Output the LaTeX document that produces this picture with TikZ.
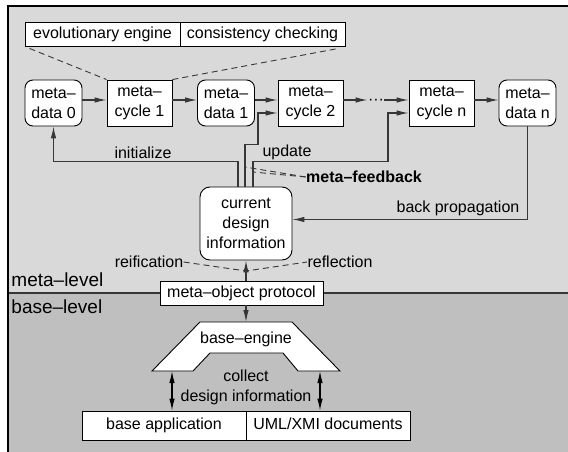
\documentclass[tikz,border=0pt]{standalone}
\usepackage{fontspec}
\setmainfont{Liberation Sans}
\usetikzlibrary{arrows.meta}
\definecolor{metagray}{RGB}{217,217,217}
\definecolor{basegray}{RGB}{191,191,191}
\definecolor{linegray}{RGB}{55,55,55}

\tikzset{
  metadata/.style={draw, fill=white, rounded corners=8pt, minimum width=57pt, minimum height=46pt, inner sep=0pt, align=center},
  metacycle/.style={draw, fill=white, minimum width=65pt, minimum height=46pt, inner sep=0pt, align=center},
  bar/.style={draw, fill=white, minimum height=24pt, inner sep=0pt, text height=12pt, text depth=3.5pt},
  lbl/.style={inner sep=0pt},
  dash6/.style={dashed, dash pattern=on 6pt off 4pt, draw=linegray},
  arr/.style={draw=linegray, line width=1.1pt, -{Latex[length=12pt,width=5.5pt]}},
  darr/.style={draw=black, line width=1.1pt, {Latex[length=12pt,width=5.5pt]}-{Latex[length=12pt,width=5.5pt]}}
}

\begin{document}
\begin{tikzpicture}[x=1pt, y=-1pt, font=\fontsize{16}{20}\selectfont, line width=0.9pt]
\useasboundingbox (0,0) rectangle (568,452);
  \fill[metagray] (8,6) rectangle (568,293);
  \fill[basegray] (8,293) rectangle (568,452);
  \draw[linegray, line width=1.2pt] (8,293) -- (568,293);
  \draw[line width=2pt] (8,452) -- (8,6) -- (568,6);

  \node[lbl, anchor=west, font=\fontsize{19}{22}\selectfont] (ml) at (11,280) {meta--level};
  \node[lbl, anchor=west, font=\fontsize{19}{22}\selectfont] (bl) at (11,307) {base--level};

  \node[bar, minimum width=155pt] (evo) at (102.5,34) {evolutionary engine};
  \node[bar, minimum width=165pt] (cons) at (262.5,34) {consistency checking};

  \node[metadata] (md0) at (53.5,103) {meta--\\data 0};
  \node[metacycle] (mc1) at (139.5,103) {meta--\\cycle 1};
  \node[metadata] (md1) at (226,103) {meta--\\data 1};
  \node[metacycle] (mc2) at (310.5,103) {meta--\\cycle 2};
  \node[lbl] (dots) at (376,102) {\textperiodcentered\textperiodcentered\textperiodcentered};
  \node[metacycle] (mcn) at (441.5,103) {meta--\\cycle n};
  \node[metadata] (mdn) at (527.5,103) {meta--\\data n};

  \node[metadata, rounded corners=10pt, minimum width=92pt, minimum height=73pt] (cdi) at (246,223.5) {current\\design\\information};

  \node[lbl] (init) at (143,153) {initialize};
  \node[lbl] (upd) at (287,152) {update};
  \node[lbl, font=\fontsize{16}{20}\selectfont\bfseries] (fb) at (364,177) {meta--feedback};
  \node[lbl] (bp) at (458,208) {back propagation};
  \node[lbl] (reif) at (149,262) {reification};
  \node[lbl] (refl) at (340,262) {reflection};

  \node[bar, minimum width=163pt] (mop) at (241.5,293) {meta--object protocol};

  \filldraw[fill=white] (200,322) -- (292,322) -- (340,371) -- (298,371) -- (283,353)
    -- (210,353) -- (193,371) -- (152,371) -- cycle;
  \node[lbl] (be) at (246,339) {base--engine};
  \coordinate (betop) at (246,322);
  \coordinate (bel) at (172,371);
  \coordinate (ber) at (320,371);
  \node[lbl, align=center] (coll) at (246,387) {collect\\design information};

  \node[bar, minimum width=164pt, minimum height=29pt] (bapp) at (164,425.5) {base application};
  \node[bar, minimum width=164pt, minimum height=29pt] (uml) at (328,425.5) {UML/XMI documents};

  \foreach \from/\to in {md0/mc1, mc1/md1, md1/mc2, mcn/mdn}
   \draw[arr] ([yshift=3pt]\from.east) -- ([yshift=3pt]\to.west);
  \draw[arr] ([yshift=3pt]mc2.east) -- ([yshift=2pt]dots.west);
  \draw[arr] ([yshift=2pt]dots.east) -- ([yshift=3pt]mcn.west);

  \draw[dash6] ([xshift=5pt,yshift=-2pt]evo.south west) -- (mc1.north west);
  \draw[dash6] (mc1.north east) -- ([xshift=-7pt,yshift=-2pt]cons.south east);

  \draw[arr] ([xshift=-8pt]cdi.north) -- ++(0,-25) -| (md0.south);
  \draw[arr] ([xshift=-1pt]cdi.north) -- ++(0,-42) -- ++(13,0) |- ([yshift=-10pt]mc2.west);
  \draw[arr] ([xshift=7pt]cdi.north) -- ++(0,-25) -- ++(135,0) |- ([yshift=-10pt]mcn.west);

  \coordinate (fb1) at (245,167);
  \coordinate (fb2) at (253,172);
  \draw[dash6] (fb.west) -- (fb1);
  \draw[dash6] (fb.west) -- (fb2);

  \draw[arr] (mdn.south) |- ([yshift=4pt]cdi.east);

  \draw[arr] (mop.north -| cdi.south) -- (cdi.south);
  \draw[arr] (mop.south -| cdi.south) -- (betop);
  \coordinate (rr) at (246,271);
  \draw[dash6] (reif.east) -- (rr) -- (refl.west);

  \draw[darr] (bel) -- (bel |- bapp.north);
  \draw[darr] (ber) -- (ber |- uml.north);
\end{tikzpicture}
\end{document}
